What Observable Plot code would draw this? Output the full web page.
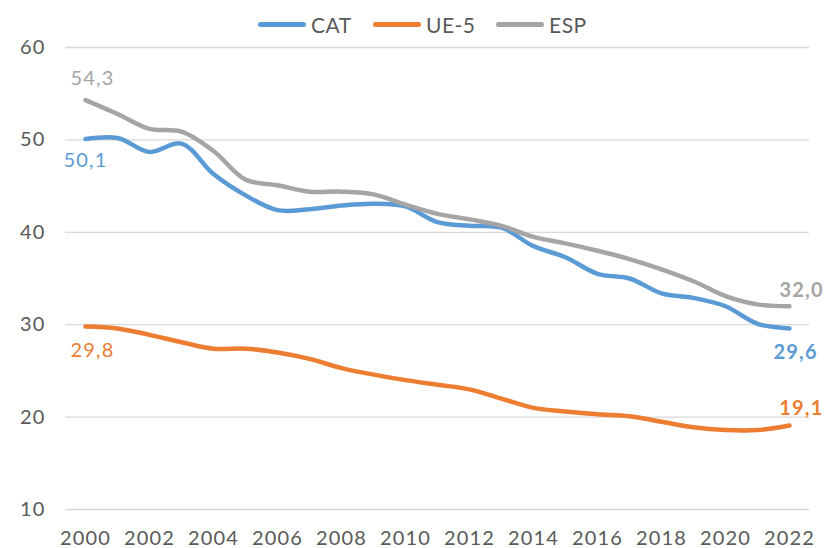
<!DOCTYPE html>
<html><head><meta charset="utf-8">
<script src="https://cdn.jsdelivr.net/npm/d3@7"></script>
<script src="https://cdn.jsdelivr.net/npm/@observablehq/plot@0.6"></script>
<style>
body{margin:0;background:#fff;}
#wrap{width:830px;}
#legend{position:relative;height:26px;width:830px;font-family:Lato,"Open Sans",sans-serif;font-size:21px;color:#595959;letter-spacing:0.5px;z-index:2;}
.item{position:absolute;top:6px;height:36px;display:flex;align-items:center;}
.sw{width:48px;height:5px;border-radius:3px;margin-right:5px;}
#chart svg text{letter-spacing:1.2px;}
</style></head><body>
<div id="wrap"><div id="legend"></div><div id="chart"></div></div>
<script>
const years = [2000,2001,2002,2003,2004,2005,2006,2007,2008,2009,2010,2011,2012,2013,2014,2015,2016,2017,2018,2019,2020,2021,2022];
const cat = [50.1,50.2,48.7,49.6,46.3,44.0,42.4,42.5,42.9,43.1,42.8,41.1,40.7,40.5,38.5,37.3,35.5,35.0,33.4,32.9,32.0,30.1,29.6];
const ue5 = [29.8,29.6,28.9,28.1,27.4,27.4,27.0,26.3,25.3,24.6,24.0,23.5,23.0,22.0,21.0,20.6,20.3,20.1,19.5,18.9,18.6,18.6,19.1];
const esp = [54.3,52.8,51.2,50.9,48.8,45.7,45.1,44.4,44.4,44.1,43.0,42.0,41.4,40.7,39.5,38.8,38.0,37.1,36.0,34.7,33.1,32.2,32.0];
const seriesNames = ["CAT","UE-5","ESP"];
const seriesValues = [cat, ue5, esp];
const colors = ["#5B9BD5","#ED7D31","#A5A5A5"];
const yTicks = [10,20,30,40,50,60];
const xTicks = years.filter(y => y % 2 === 0);

const rows = [];
seriesNames.forEach((s, i) => years.forEach((yr, j) => rows.push({series: s, year: yr, value: seriesValues[i][j]})));
const fmt = v => d3.format(".1f")(v).replace(".", ",");
const first = s => rows.find(r => r.series === s && r.year === years[0]);
const last = s => rows.find(r => r.series === s && r.year === years[years.length - 1]);

// legend
const legend = document.getElementById("legend");
const legendLeft = [258, 373, 496];
seriesNames.forEach((s, i) => {
  const it = document.createElement("div");
  it.className = "item";
  it.style.left = legendLeft[i] + "px";
  it.innerHTML = `<div class="sw" style="background:${colors[i]}"></div><span>${s}</span>`;
  legend.appendChild(it);
});

const plot = Plot.plot({
  width: 830,
  height: 522,
  marginTop: 21,
  marginBottom: 39,
  marginLeft: 65,
  marginRight: 21,
  style: {fontFamily: "Lato, 'Open Sans', sans-serif", fontSize: "20px", color: "#595959", background: "transparent"},
  x: {type: "point", domain: years, padding: 0.5},
  y: {domain: [10, 60]},
  color: {domain: seriesNames, range: colors},
  marks: [
    Plot.ruleY(yTicks, {stroke: "#d9d9d9", strokeWidth: 1.3}),
    Plot.axisY({ticks: yTicks, tickSize: 0, tickPadding: 20, label: null, fill: "#595959", fontSize: 20}),
    Plot.axisX({ticks: xTicks, tickFormat: d => String(d), tickSize: 0, tickPadding: 21, label: null, fill: "#595959", fontSize: 20}),
    Plot.line(rows, {x: "year", y: "value", z: "series", stroke: "series", strokeWidth: 4.5, curve: "catmull-rom", strokeLinecap: "round"}),
    Plot.text([first("ESP")], {x: "year", y: "value", text: d => fmt(d.value), fill: colors[2], fontSize: 20, dx: 7, dy: -22}),
    Plot.text([first("CAT")], {x: "year", y: "value", text: d => fmt(d.value), fill: colors[0], fontSize: 20, dx: 0, dy: 22}),
    Plot.text([first("UE-5")], {x: "year", y: "value", text: d => fmt(d.value), fill: colors[1], fontSize: 20, dx: 7, dy: 24}),
    Plot.text([last("ESP")], {x: "year", y: "value", text: d => fmt(d.value), fill: colors[2], fontSize: 20, fontWeight: "bold", textAnchor: "start", dx: -10, dy: -16}),
    Plot.text([last("CAT")], {x: "year", y: "value", text: d => fmt(d.value), fill: colors[0], fontSize: 20, fontWeight: "bold", textAnchor: "start", dx: -16, dy: 24}),
    Plot.text([last("UE-5")], {x: "year", y: "value", text: d => fmt(d.value), fill: colors[1], fontSize: 20, fontWeight: "bold", textAnchor: "end", dx: 34, dy: -17, style: "letter-spacing:0.4px"})
  ]
});
document.getElementById("chart").appendChild(plot);
</script>
</body></html>
